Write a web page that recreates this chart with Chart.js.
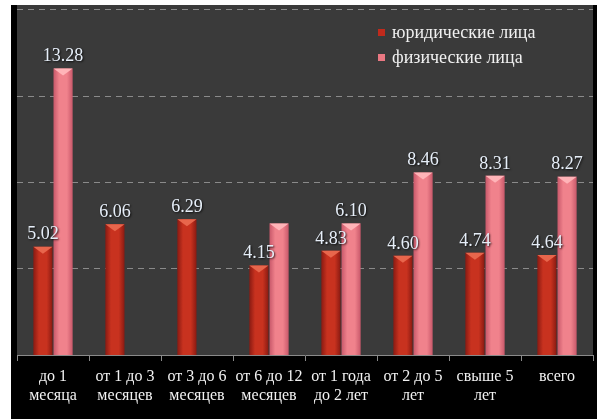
<!DOCTYPE html>
<html>
<head>
<meta charset="utf-8">
<script src="https://cdn.jsdelivr.net/npm/chart.js@4/dist/chart.umd.min.js"></script>
<style>
  html, body { margin:0; padding:0; background:#fff; }
  #wrap { position:absolute; left:11px; top:5px; width:586px; height:414px; background:#000; }
</style>
</head>
<body>
<div id="wrap"><canvas id="chart"></canvas></div>
<script>
// данные
const categories = [
  ['до 1', 'месяца'],
  ['от 1 до 3', 'месяцев'],
  ['от 3 до 6', 'месяцев'],
  ['от 6 до 12', 'месяцев'],
  ['от 1 года', 'до 2 лет'],
  ['от 2 до 5', 'лет'],
  ['свыше 5', 'лет'],
  ['всего'],
];
const seriesNames = ['юридические лица', 'физические лица'];
const legalValues    = [5.02, 6.06, 6.29, 4.15, 4.83, 4.60, 4.74, 4.64];
const physicalValues = [13.28, null, null, 6.10, 6.10, 8.46, 8.31, 8.27];
const gridTicks = [4, 8, 12, 16];

// physicalValues[3] — бар без подписи в оригинале
const physicalLabels = [true, false, false, false, true, true, true, true];

const SERIF = '"Liberation Serif", "DejaVu Serif", serif';
const COLORS = [
  { edge:'#8a1a12', mid:'#c8321f', top:'#e8664c', legend:'#c02a1c' },
  { edge:'#c8586a', mid:'#f0828c', top:'#ffb4b8', legend:'#ea7882' },
];

// фон области построения
const plotBg = {
  id: 'plotBg',
  beforeDraw(chart) {
    const { ctx, chartArea: a } = chart;
    ctx.save();
    ctx.fillStyle = '#3a3a3a';
    ctx.fillRect(a.left, a.top, a.right - a.left, a.bottom - a.top);
    ctx.restore();
  },
};

// объёмная заливка столбцов
const barShade = {
  id: 'barShade',
  beforeDatasetsDraw(chart) {
    const ctx = chart.ctx;
    chart.data.datasets.forEach((ds, di) => {
      const c = COLORS[di];
      chart.getDatasetMeta(di).data.forEach(bar => {
        const l = bar.x - bar.width / 2, r = bar.x + bar.width / 2;
        const g = ctx.createLinearGradient(l, 0, r, 0);
        g.addColorStop(0, c.edge);
        g.addColorStop(0.3, c.mid);
        g.addColorStop(0.7, c.mid);
        g.addColorStop(1, c.edge);
        bar.options = Object.assign({}, bar.options, { backgroundColor: g });
      });
    });
  },
  afterDatasetsDraw(chart) {
    const ctx = chart.ctx;
    ctx.save();
    chart.data.datasets.forEach((ds, di) => {
      const c = COLORS[di];
      chart.getDatasetMeta(di).data.forEach((bar, i) => {
        if (ds.data[i] == null) return;
        const l = bar.x - bar.width / 2, r = bar.x + bar.width / 2;
        ctx.fillStyle = c.top;
        ctx.beginPath();
        ctx.moveTo(l, bar.y);
        ctx.lineTo(r, bar.y);
        ctx.lineTo(bar.x, bar.y + 7);
        ctx.closePath();
        ctx.fill();
      });
    });
    ctx.restore();
  },
};

// подписи значений
const valueLabels = {
  id: 'valueLabels',
  afterDatasetsDraw(chart) {
    const ctx = chart.ctx;
    ctx.save();
    ctx.font = '18px ' + SERIF;
    ctx.textAlign = 'center';
    ctx.textBaseline = 'bottom';
    ctx.shadowColor = 'rgba(0,0,0,0.8)';
    ctx.shadowBlur = 2;
    ctx.shadowOffsetX = 1;
    ctx.shadowOffsetY = 1;
    ctx.fillStyle = '#e6eef8';
    chart.data.datasets.forEach((ds, di) => {
      chart.getDatasetMeta(di).data.forEach((bar, i) => {
        const v = ds.data[i];
        if (v == null) return;
        if (di === 1 && !physicalLabels[i]) return;
        ctx.fillText(v.toFixed(2), bar.x, bar.y - 3);
      });
    });
    ctx.restore();
  },
};

// легенда внутри области построения
const innerLegend = {
  id: 'innerLegend',
  afterDraw(chart) {
    const ctx = chart.ctx;
    ctx.save();
    ctx.font = '18px ' + SERIF;
    ctx.textBaseline = 'middle';
    seriesNames.forEach((name, i) => {
      const y = 28 + i * 25;
      ctx.fillStyle = COLORS[i].legend;
      ctx.fillRect(367, y - 4, 7, 7);
      ctx.fillStyle = '#f0f0f0';
      ctx.fillText(name, 381, y);
    });
    ctx.restore();
  },
};

new Chart(document.getElementById('chart'), {
  type: 'bar',
  data: {
    labels: categories,
    datasets: [
      { label: seriesNames[0], data: legalValues,    backgroundColor: COLORS[0].mid },
      { label: seriesNames[1], data: physicalValues, backgroundColor: COLORS[1].mid },
    ],
  },
  options: {
    responsive: true,
    maintainAspectRatio: false,
    animation: false,
    layout: { padding: { left:6, right:4, top:0, bottom:0 } },
    datasets: { bar: { categoryPercentage:0.56, barPercentage:0.95, borderWidth:0 } },
    plugins: { legend:{ display:false }, tooltip:{ enabled:false } },
    scales: {
      x: {
        grid: { drawOnChartArea:false, drawTicks:true, tickLength:6, color:'#8a8a8a', offset:true },
        border: { display:true, color:'#8a8a8a', width:1 },
        ticks: { color:'#f2f2f2', font:{ family:SERIF, size:16 }, padding:6, maxRotation:0, autoSkip:false },
        afterFit: axis => { axis.height = 64; },
      },
      y: {
        min: 0, max: 16.23,
        afterBuildTicks: axis => { axis.ticks = gridTicks.map(v => ({ value:v })); },
        grid: { color:'#8a8a8a', lineWidth:1, drawTicks:false },
        border: { display:false, dash:[6,5] },
        ticks: { display:false },
      },
    },
  },
  plugins: [plotBg, barShade, valueLabels, innerLegend],
});
</script>
</body>
</html>
